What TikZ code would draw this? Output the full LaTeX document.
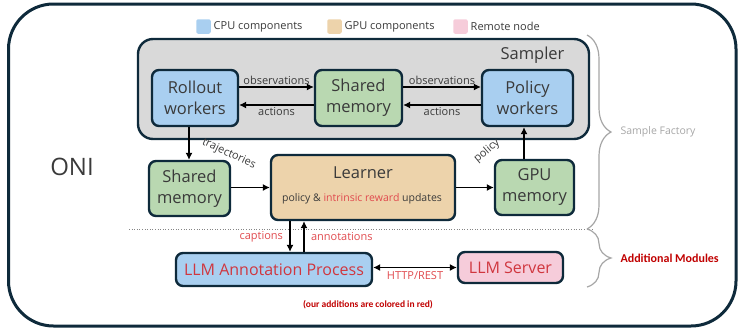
\documentclass[tikz,border=0pt]{standalone}
\usepackage{fontspec}
\setmainfont{Open Sans}
\newfontfamily\notefont{Carlito}
\usetikzlibrary{arrows.meta,decorations.pathreplacing}

\definecolor{edge}{HTML}{0E2A3B}
\definecolor{cpu}{HTML}{A9CFF0}
\definecolor{gpu}{HTML}{EDD3AB}
\definecolor{remote}{HTML}{F6CCDA}
\definecolor{mem}{HTML}{B9D8B1}
\definecolor{samp}{HTML}{D9D9D9}
\definecolor{txt}{HTML}{3A3A3A}
\definecolor{addred}{HTML}{E04A4E}
\definecolor{llmred}{HTML}{D0363E}
\definecolor{darkred}{HTML}{C00000}
\definecolor{bracegray}{HTML}{A6A6A6}

\tikzset{
  block/.style={draw=edge, line width=2.4pt, rounded corners=7pt, text=txt,
    align=center, inner sep=0pt, font=\fontsize{16.5}{21}\selectfont},
  lbl/.style={text=txt, font=\fontsize{11}{13}\selectfont, inner sep=1.5pt},
  redlbl/.style={lbl, text=addred},
  arr/.style={-{Latex[length=7pt,width=7pt]}, line width=1.1pt},
  keybox/.style={fill=#1, minimum size=14.5pt, inner sep=0pt, rounded corners=2pt},
  brace/.style={decorate, decoration={brace, amplitude=24pt}, draw=bracegray, line width=1.2pt},
}

\begin{document}
\begin{tikzpicture}[x=1pt,y=-1pt]
\useasboundingbox (0,0) rectangle (738,330);
% outer frame
\draw[draw=edge, line width=3pt, rounded corners=45pt] (8.5,4) rectangle (736,326);

% legend
\node[keybox=cpu] (cpukey) at (203.5,26.5) {};
\node[lbl, anchor=west] (cputext) at (212,26.5) {CPU components};
\node[keybox=gpu] (gpukey) at (334.5,26.5) {};
\node[lbl, anchor=west] (gputext) at (343,26.5) {GPU components};
\node[keybox=remote] (remotekey) at (460.5,26.5) {};
\node[lbl, anchor=west] (remotetext) at (469,26.5) {Remote node};

% sampler
\node[block, fill=samp, minimum width=451pt, minimum height=100pt, rounded corners=15pt] (sampler) at (363.5,89) {};
\node[text=txt, font=\fontsize{16.5}{21}\selectfont, anchor=east] (samplertitle) at (568,55) {Sampler};
\node[block, fill=cpu, minimum width=86pt, minimum height=56pt] (rollout) at (195,98) {Rollout\\workers};
\node[block, fill=mem, minimum width=87pt, minimum height=56pt] (memtop) at (358.5,98) {Shared\\memory};
\node[block, fill=cpu, minimum width=91pt, minimum height=56pt] (policy) at (527.5,98) {Policy\\workers};

\draw[arr] ([yshift=11pt]rollout.east) -- node[lbl, above] {observations} ([yshift=11pt]memtop.west);
\draw[arr] ([yshift=-7pt]memtop.west) -- node[lbl, below] {actions} ([yshift=-7pt]rollout.east);
\draw[arr] ([yshift=11pt]memtop.east) -- node[lbl, above] {observations} ([yshift=11pt]policy.west);
\draw[arr] ([yshift=-7pt]policy.west) -- node[lbl, below] {actions} ([yshift=-7pt]memtop.east);

% learner row
\node[block, fill=mem, minimum width=81pt, minimum height=55pt] (membot) at (189.5,188.5) {Shared\\memory};
\node[block, fill=gpu, minimum width=184pt, minimum height=65pt] (learner) at (363,187.5) {};
\node[text=txt, font=\fontsize{16.5}{21}\selectfont] (learnertitle) at (363,173) {Learner};
\node[text=txt, font=\fontsize{10.5}{12}\selectfont] (learnerupd) at (362,198.5) {policy \& \textcolor{addred}{intrinsic reward} updates};
\node[block, fill=mem, minimum width=79pt, minimum height=55pt] (gpumem) at (534.5,187.5) {GPU\\memory};

\draw[arr] ([xshift=-6pt]rollout.south) -- ([xshift=-6pt]rollout.south |- membot.north);
\node[lbl, rotate=-25] (trajlbl) at (229,154) {trajectories};
\draw[arr] (membot.east |- learner.west) -- (learner.west);
\draw[arr] (learner.east) -- (learner.east -| gpumem.west);
\draw[arr] ([xshift=-3.5pt]policy.south |- gpumem.north) -- ([xshift=-3.5pt]policy.south);
\node[lbl, rotate=40] (policylbl) at (487,151) {policy};

% divider
\draw[bracegray!80!black, line width=1pt, dash pattern=on 1pt off 1.6pt] (129,229) -- (592,229);

% additional modules
\node[block, fill=cpu, text=llmred, font=\fontsize{16}{20}\selectfont, minimum width=196pt, minimum height=33pt] (annot) at (274,269.5) {LLM Annotation Process};
\node[block, fill=remote, text=llmred, font=\fontsize{16}{20}\selectfont, minimum width=105pt, minimum height=31pt] (server) at (510.5,267.5) {LLM Server};

\draw[arr] ([xshift=-73pt]learner.south) -- node[redlbl, left=5pt] {captions} ([xshift=-73pt]learner.south |- annot.north);
\draw[arr] ([xshift=-59pt]learner.south |- annot.north) -- node[redlbl, right=5pt] {annotations} ([xshift=-59pt]learner.south);
\draw[{Latex[length=7pt,width=7pt]}-{Latex[length=7pt,width=7pt]}, line width=1.1pt] (annot.east |- server.west) -- node[redlbl, below=2pt] {HTTP/REST} (server.west);

\node[text=darkred, font=\notefont\bfseries\fontsize{9.5}{11}\selectfont] (note) at (368,305) {(our additions are colored in red)};

% braces
\draw[brace] (587,35) -- (587,229);
\draw[brace] (587,229) -- (587,287);
\node[text=bracegray, font=\fontsize{10.5}{12}\selectfont, anchor=west] (factorylbl) at (617,132) {Sample Factory};
\node[text=darkred, font=\notefont\bfseries\fontsize{12}{14}\selectfont, anchor=west] (modulelbl) at (617,258) {Additional Modules};

\node[text=txt, font=\fontsize{24}{28}\selectfont] (oni) at (72,166.5) {ONI};
\end{tikzpicture}
\end{document}
